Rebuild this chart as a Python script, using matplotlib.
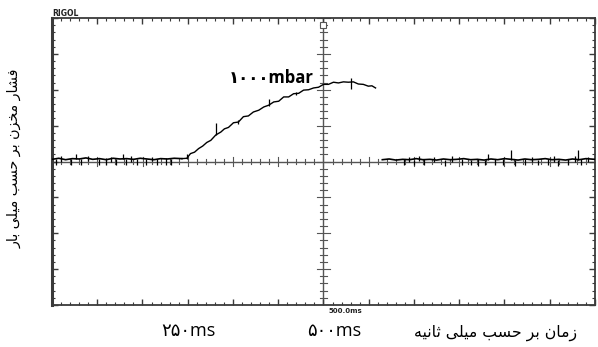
import matplotlib
matplotlib.use("Agg")
import matplotlib.pyplot as plt
import numpy as np

# oscilloscope screen: 12 x 8 divisions, values read in divisions
base_x = [-6.00, -5.85, -5.70, -5.55, -5.40, -5.25, -5.10, -4.95, -4.80, -4.65,
          -4.50, -4.35, -4.20, -4.05, -3.90, -3.75, -3.60, -3.45, -3.30, -3.13]
base_y = [0.06, 0.09, 0.05, 0.08, 0.07, 0.10, 0.06, 0.08, 0.05, 0.09,
          0.07, 0.08, 0.06, 0.09, 0.07, 0.05, 0.08, 0.07, 0.09, 0.08]

ramp_x = [-3.13, -3.02, -2.94, -2.85, -2.76, -2.67, -2.58, -2.49, -2.38, -2.27,
          -2.19, -2.10, -1.99, -1.88, -1.77, -1.66, -1.55, -1.43, -1.32, -1.21,
          -1.10, -0.99, -0.88, -0.77, -0.66, -0.55, -0.44, -0.33, -0.22, -0.11,
          0.00, 0.11, 0.22, 0.33, 0.44, 0.55, 0.66, 0.77, 0.88, 0.99, 1.07, 1.15]
ramp_y = [0.08, 0.09, 0.22, 0.26, 0.36, 0.43, 0.53, 0.59, 0.74, 0.82,
          0.91, 0.95, 1.08, 1.10, 1.25, 1.27, 1.38, 1.43, 1.52, 1.57,
          1.66, 1.68, 1.80, 1.80, 1.89, 1.90, 1.99, 2.00, 2.05, 2.07,
          2.15, 2.15, 2.21, 2.19, 2.22, 2.21, 2.22, 2.16, 2.15, 2.10, 2.11, 2.05]

tail_x = [1.30, 1.45, 1.60, 1.75, 1.90, 2.05, 2.20, 2.35, 2.50, 2.65,
          2.80, 2.95, 3.10, 3.25, 3.40, 3.55, 3.70, 3.85, 4.00, 4.15,
          4.30, 4.45, 4.60, 4.75, 4.90, 5.05, 5.20, 5.35, 5.50, 5.65, 5.80, 6.00]
tail_y = [0.05, 0.07, 0.04, 0.06, 0.05, 0.08, 0.05, 0.06, 0.04, 0.07,
          0.05, 0.06, 0.08, 0.05, 0.06, 0.04, 0.07, 0.05, 0.08, 0.06,
          0.04, 0.07, 0.05, 0.06, 0.08, 0.05, 0.06, 0.04, 0.07, 0.05, 0.08, 0.06]

# noise spikes on the trace (x, low, high)
spike_x = [-5.92, -5.80, -5.59, -5.47, -5.36, -5.20, -4.97, -4.81, -4.70, -4.59,
           -4.44, -4.37, -4.25, -4.13, -3.93, -3.80, -3.69, -3.49, -3.36, -3.02,
           -2.38, -1.90, -1.21, -0.60, 0.60,
           1.77, 1.88, 1.99, 2.10, 2.21, 2.45, 2.69, 2.85, 3.05, 3.25, 3.42, 3.58,
           3.64, 3.80, 3.97, 4.15, 4.24, 4.46, 4.60, 4.75, 4.97, 5.10, 5.19, 5.41,
           5.55, 5.63, 5.70, 5.85]
spike_lo = [-0.11, 0.00, -0.11, 0.07, -0.10, 0.01, -0.11, -0.10, 0.00, -0.11,
            0.07, -0.10, 0.00, -0.11, -0.10, 0.01, -0.11, -0.10, -0.11, 0.07,
            0.74, 1.05, 1.56, 1.86, 2.03,
            -0.11, 0.00, -0.10, 0.01, -0.11, 0.00, -0.12, 0.00, -0.10, -0.11, -0.12, -0.10,
            0.05, -0.11, -0.10, 0.05, -0.12, -0.11, 0.00, -0.10, -0.11, 0.00, -0.12, -0.10,
            0.00, 0.05, -0.11, 0.00]
spike_hi = [0.07, 0.14, 0.08, 0.22, 0.08, 0.14, 0.07, 0.09, 0.13, 0.07,
            0.22, 0.08, 0.14, 0.06, 0.08, 0.13, 0.07, 0.09, 0.08, 0.22,
            1.06, 1.16, 1.75, 1.95, 2.34,
            0.06, 0.13, 0.05, 0.14, 0.07, 0.13, 0.05, 0.14, 0.06, 0.04, 0.07, 0.05,
            0.20, 0.06, 0.08, 0.31, 0.05, 0.06, 0.13, 0.04, 0.07, 0.14, 0.05, 0.06,
            0.14, 0.31, 0.07, 0.13]

ylabel_fa = "فشار مخزن بر حسب میلی بار"
xlabel_fa = "زمان بر حسب میلی ثانیه"
peak_label = "۱۰۰۰mbar"
tick_labels = ["۲۵۰ms", "۵۰۰ms"]
tick_pos = [-2.98, 0.24]

# presentation forms: isolated, final, initial, medial
FORMS = {
    "ا": ("\uFE8D", "\uFE8E", "\uFE8D", "\uFE8E"),
    "ب": ("\uFE8F", "\uFE90", "\uFE91", "\uFE92"),
    "ت": ("\uFE95", "\uFE96", "\uFE97", "\uFE98"),
    "ث": ("\uFE99", "\uFE9A", "\uFE9B", "\uFE9C"),
    "ح": ("\uFEA1", "\uFEA2", "\uFEA3", "\uFEA4"),
    "خ": ("\uFEA5", "\uFEA6", "\uFEA7", "\uFEA8"),
    "ر": ("\uFEAD", "\uFEAE", "\uFEAD", "\uFEAE"),
    "ز": ("\uFEAF", "\uFEB0", "\uFEAF", "\uFEB0"),
    "س": ("\uFEB1", "\uFEB2", "\uFEB3", "\uFEB4"),
    "ش": ("\uFEB5", "\uFEB6", "\uFEB7", "\uFEB8"),
    "ف": ("\uFED1", "\uFED2", "\uFED3", "\uFED4"),
    "ل": ("\uFEDD", "\uFEDE", "\uFEDF", "\uFEE0"),
    "م": ("\uFEE1", "\uFEE2", "\uFEE3", "\uFEE4"),
    "ن": ("\uFEE5", "\uFEE6", "\uFEE7", "\uFEE8"),
    "ه": ("\uFEE9", "\uFEEA", "\uFEEB", "\uFEEC"),
    "ی": ("\uFBFC", "\uFBFD", "\uFBFE", "\uFBFF"),
}
RIGHT_ONLY = set("ارزد")


def shape_fa(s):
    out = []
    for i, c in enumerate(s):
        if c not in FORMS:
            out.append(c)
            continue
        prev = s[i - 1] if i > 0 else None
        nxt = s[i + 1] if i + 1 < len(s) else None
        jp = prev in FORMS and prev not in RIGHT_ONLY
        jn = nxt in FORMS and c not in RIGHT_ONLY
        idx = (3 if jn else 1) if jp else (2 if jn else 0)
        out.append(FORMS[c][idx])
    return "".join(reversed(out))


fig = plt.figure(figsize=(5.98, 3.47), dpi=100)
ax = fig.add_axes([52 / 598, 1 - 305 / 347, 543 / 598, 287 / 347])
ax.set_xlim(-6, 6)
ax.set_ylim(-4, 4)

frame_c = "#3a3a3a"
for side in ["top", "bottom", "right"]:
    ax.spines[side].set_linewidth(1.3)
    ax.spines[side].set_color(frame_c)
ax.spines["left"].set_linewidth(2.2)
ax.spines["left"].set_color(frame_c)

ax.set_xticks(np.arange(-6, 7, 1))
ax.set_yticks(np.arange(-4, 5, 1))
ax.set_xticks(np.arange(-6, 6.01, 0.2), minor=True)
ax.set_yticks(np.arange(-4, 4.01, 0.2), minor=True)
ax.tick_params(which="both", direction="in", top=True, right=True,
               labelbottom=False, labelleft=False, color=frame_c)
ax.tick_params(which="major", length=4, width=1)
ax.tick_params(which="minor", length=2, width=0.8)

# centre cross with its own ticks
ax.axhline(0, color="#555555", lw=1, zorder=1)
ax.axvline(0, color="#555555", lw=1, zorder=1)
for xt in np.arange(-6, 6.01, 0.2):
    h = 0.12 if abs(xt - round(xt)) < 1e-6 else 0.06
    ax.plot([xt, xt], [-h, h], color="#555555", lw=0.8, zorder=1)
for yt in np.arange(-4, 4.01, 0.2):
    w = 0.14 if abs(yt - round(yt)) < 1e-6 else 0.08
    ax.plot([-w, w], [yt, yt], color="#555555", lw=0.8, zorder=1)

ax.plot(base_x, base_y, color="black", lw=1.2, zorder=3)
ax.plot(ramp_x, ramp_y, color="black", lw=1.0, zorder=3)
ax.plot(tail_x, tail_y, color="black", lw=1.2, zorder=3)
ax.vlines(spike_x, spike_lo, spike_hi, color="black", lw=0.9, zorder=3)

# trigger marker at top of centre line
ax.plot([0], [3.8], marker="s", ms=5, mfc="white", mec="#555555", mew=0.8, zorder=4,
        clip_on=False)

ax.text(-1.15, 2.07, peak_label, ha="center", va="bottom", fontsize=12,
        fontweight="bold", family=["Open Sans", "DejaVu Sans"], zorder=5)

fig.text(52 / 598, 1 - 13 / 347, "RIGOL", fontsize=5.5, fontweight="bold",
         ha="left", va="center", color="#222222")
fig.text(345 / 598, 1 - 311 / 347, "500.0ms", fontsize=5, fontweight="bold",
         ha="center", va="center", color="#222222")

for lbl, pos in zip(tick_labels, tick_pos):
    ax.text(pos, -4.72, lbl, ha="center", va="center", fontsize=13,
            family=["Open Sans", "DejaVu Sans"], clip_on=False)

fig.text(496 / 598, 1 - 333 / 347, shape_fa(xlabel_fa), fontsize=11.3,
         ha="center", va="center", family=["DejaVu Sans"])
fig.text(15 / 598, 1 - 158 / 347, shape_fa(ylabel_fa), fontsize=10.3, rotation=90,
         ha="center", va="center", family=["DejaVu Sans"])

fig.savefig("out.png", dpi=100)
